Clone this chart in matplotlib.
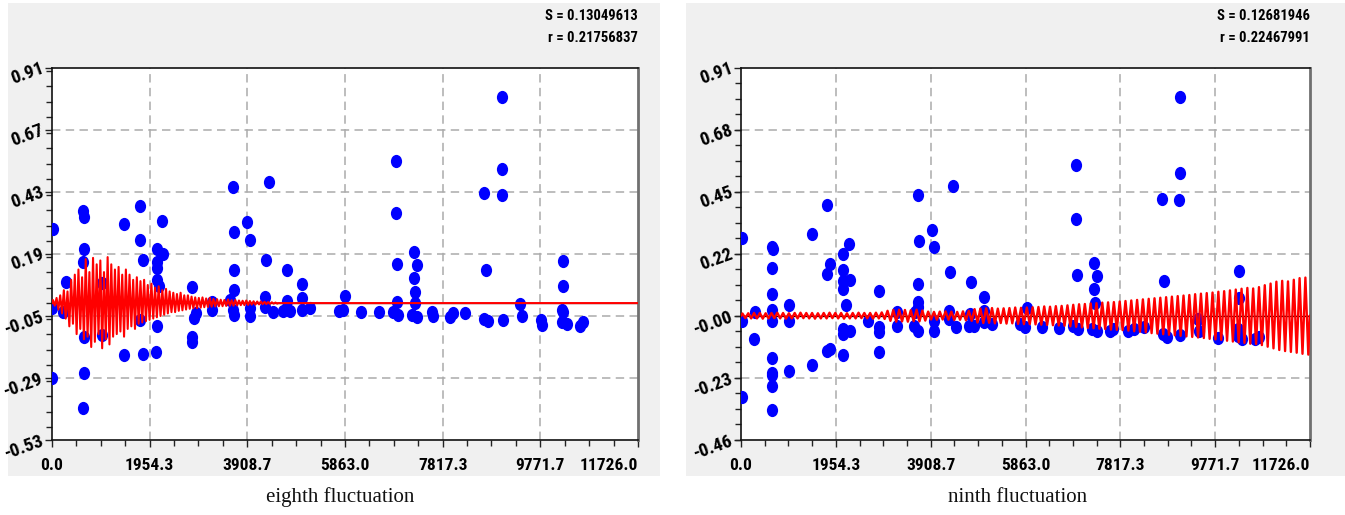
import numpy as np
import matplotlib
matplotlib.use("Agg")
import matplotlib.pyplot as plt
from matplotlib.path import Path
from matplotlib.markers import MarkerStyle
from matplotlib.patches import Rectangle
from matplotlib.ticker import FixedLocator, MultipleLocator
from matplotlib import font_manager as fm
from matplotlib.transforms import Affine2D

# ------------------------------------------------------------------ data
x_max = 11726.0
x_tick_labels = ["0.0", "1954.3", "3908.7", "5863.0", "7817.3", "9771.7", "11726.0"]

# eighth fluctuation
eighth_caption = "eighth fluctuation"
eighth_S = "S = 0.13049613"
eighth_r = "r = 0.21756837"
eighth_ylim = (-0.53, 0.91)
eighth_ytick_labels = ["-0.53", "-0.29", "-0.05", "0.19", "0.43", "0.67", "0.91"]
eighth_x = [13, 0, 220, 0, 280, 620, 640, 640, 620, 640, 640, 620, 1000, 1000,
            1440, 1440, 1760, 1760, 1820, 1820, 1760, 2200, 2100, 2220, 2100,
            2110, 2110, 2100, 2080, 2150, 2800, 2800, 2800, 2850, 2880, 3200,
            3200, 3620, 3640, 3640, 3640, 3560, 3620, 3640, 3900, 3960, 3960,
            3960, 4340, 4280, 4260, 4260, 4420, 4700, 4700, 4620, 4760, 5000,
            5000, 5000, 5160, 5740, 5860, 5820, 6180, 6540, 6880, 6880, 6900,
            6900, 6820, 6920, 7240, 7300, 7240, 7260, 7260, 7200, 7300, 7600,
            7620, 7960, 8020, 8260, 8640, 8680, 8640, 8720, 9000, 9000, 9000,
            9020, 9360, 9400, 9780, 9800, 10230, 10230, 10200, 10230, 10200,
            10300, 10560, 10630]
eighth_y = [0.287, -0.019, -0.035, -0.29, 0.082, 0.356, 0.333, 0.209, 0.159,
            -0.131, -0.27, -0.406, 0.078, -0.124, 0.306, -0.20, 0.376, 0.244,
            0.167, -0.197, -0.066, 0.318, 0.209, 0.19, 0.159, 0.136, 0.09,
            -0.089, -0.19, 0.065, 0.062, -0.131, -0.15, -0.058, -0.04, 0.004,
            -0.027, 0.449, 0.275, 0.128, 0.05, 0.012, -0.027, -0.046, 0.314,
            0.244, -0.019, -0.05, 0.469, 0.167, 0.024, -0.015, -0.035, 0.128,
            0.008, -0.031, -0.031, 0.074, 0.02, -0.027, -0.019, -0.031, 0.027,
            -0.027, -0.035, -0.035, 0.55, 0.349, 0.151, 0.004, -0.035, -0.046,
            0.198, 0.147, 0.097, 0.043, 0.0, -0.046, -0.054, -0.035, -0.05,
            -0.054, -0.038, -0.038, 0.426, 0.128, -0.062, -0.07, 0.797, 0.519,
            0.418, -0.066, -0.004, -0.05, -0.066, -0.085, 0.163, 0.066, -0.027,
            -0.035, -0.073, -0.081, -0.089, -0.073]
eighth_wave_period = 73.0
eighth_wave_peaks = [0.012, 0.02, 0.03, 0.05, 0.045, 0.09,
                     0.11, 0.13, 0.10,
                     0.17, 0.12, 0.175, 0.15, 0.165, 0.12, 0.178,
                     0.15, 0.13, 0.14, 0.11, 0.13,
                     0.11, 0.09, 0.10, 0.085, 0.09, 0.07,
                     0.075, 0.06, 0.065, 0.05, 0.055,
                     0.045, 0.04, 0.035, 0.04, 0.03, 0.03,
                     0.025, 0.022, 0.02, 0.022, 0.018, 0.02, 0.016, 0.015,
                     0.013, 0.012, 0.014, 0.011, 0.012, 0.01, 0.009, 0.01, 0.008,
                     0.007, 0.006, 0.006, 0.005, 0.004, 0.003, 0.002]
eighth_wave_troughs = [-0.01, -0.025, -0.04, -0.06, -0.09, -0.08,
                       -0.12, -0.10, -0.14,
                       -0.13, -0.17, -0.15, -0.12, -0.175, -0.14, -0.16,
                       -0.13, -0.12, -0.11, -0.13, -0.10,
                       -0.09, -0.10, -0.08, -0.075, -0.07, -0.065,
                       -0.06, -0.055, -0.05, -0.045, -0.04,
                       -0.035, -0.035, -0.03, -0.028, -0.025, -0.022,
                       -0.02, -0.02, -0.018, -0.016, -0.015, -0.014, -0.013, -0.012,
                       -0.012, -0.011, -0.01, -0.01, -0.009, -0.008, -0.008, -0.007, -0.006,
                       -0.006, -0.005, -0.004, -0.004, -0.003, -0.002, -0.002]

# ninth fluctuation
ninth_caption = "ninth fluctuation"
ninth_S = "S = 0.12681946"
ninth_r = "r = 0.22467991"
ninth_ylim = (-0.4567, 0.91)
ninth_ytick_labels = ["-0.46", "-0.23", "-0.00", "0.22", "0.45", "0.68", "0.91"]
ninth_x = [14, 14, 295, 268, 14, 630, 650, 640, 640, 640, 640, 640, 640, 640,
           640, 630, 995, 995, 995, 1460, 1460, 1770, 1830, 1770, 1770, 1830,
           2230, 2100, 2100, 2100, 2100, 2240, 2170, 2100, 2100, 2240, 2100,
           2610, 2840, 2850, 2850, 2840, 3220, 3220, 3640, 3670, 3650, 3650,
           3650, 3590, 3570, 3650, 3940, 3980, 3980, 3980, 4370, 4310, 4290,
           4290, 4430, 4730, 4720, 4690, 4810, 5010, 5010, 5010, 5170, 5750,
           5890, 5850, 6200, 6560, 6910, 6910, 6930, 6850, 6950, 7280, 7330,
           7280, 7300, 7230, 7330, 7600, 7660, 7980, 8090, 8310, 8685, 8720,
           8690, 8770, 9055, 9055, 9035, 9050, 9425, 9445, 9825, 10265, 10265,
           10250, 10250, 10320, 10590, 10680]
ninth_y = [0.285, -0.018, 0.012, -0.086, -0.298, 0.252, 0.246, 0.176, 0.08,
           0.022, -0.018, -0.156, -0.209, -0.217, -0.258, -0.346, 0.041, -0.02,
           -0.202, 0.299, -0.18, 0.408, 0.19, 0.154, -0.129, -0.122, 0.262,
           0.225, 0.169, 0.129, 0.099, 0.132, 0.041, -0.049, -0.067, -0.055,
           -0.143, -0.02, 0.092, -0.043, -0.061, -0.135, 0.012, -0.037, 0.445,
           0.273, 0.117, 0.049, 0.031, 0.012, -0.037, -0.055, 0.316, 0.253,
           -0.018, -0.055, 0.475, 0.16, 0.019, -0.012, -0.043, 0.125, 0.007,
           -0.037, -0.037, 0.068, 0.019, -0.024, -0.03, -0.03, 0.027, -0.043,
           -0.04, -0.045, 0.553, 0.355, 0.15, -0.037, -0.049, 0.194, 0.145,
           0.097, 0.047, -0.049, -0.058, -0.055, -0.049, -0.055, -0.049, -0.04,
           0.43, 0.127, -0.067, -0.077, 0.803, 0.526, 0.425, -0.07, -0.012,
           -0.055, -0.082, 0.166, 0.065, -0.049, -0.073, -0.086, -0.086, -0.08]
ninth_wave_period = 119.6
ninth_wave_peaks = [0.008, 0.009, 0.010, 0.010, 0.009, 0.010, 0.011, 0.010, 0.009,
                    0.010, 0.011, 0.010, 0.010, 0.009, 0.010, 0.011, 0.010, 0.010,
                    0.009, 0.010, 0.011, 0.010, 0.010, 0.011, 0.012,
                    0.018, 0.021, 0.022, 0.021, 0.020, 0.022, 0.019,
                    0.015, 0.014, 0.015, 0.016, 0.015, 0.014, 0.016, 0.018,
                    0.024, 0.026, 0.027, 0.028, 0.026, 0.027, 0.028, 0.030, 0.029, 0.030,
                    0.031, 0.032, 0.034, 0.033, 0.035, 0.036, 0.038, 0.040,
                    0.042, 0.043, 0.045, 0.046, 0.048, 0.049, 0.050, 0.052, 0.054,
                    0.056, 0.058, 0.060, 0.062, 0.064, 0.066, 0.068, 0.070,
                    0.072, 0.074, 0.076, 0.079, 0.081, 0.083, 0.085, 0.088, 0.090,
                    0.093, 0.096, 0.099, 0.102, 0.100, 0.105,
                    0.112, 0.118, 0.125, 0.128, 0.126, 0.132, 0.138, 0.140]
ninth_wave_troughs = [-0.009, -0.010, -0.010, -0.011, -0.010, -0.009, -0.010, -0.011,
                      -0.010, -0.010, -0.009, -0.010, -0.011, -0.010, -0.010, -0.009,
                      -0.010, -0.011, -0.010, -0.010, -0.009, -0.010, -0.011, -0.010,
                      -0.012,
                      -0.019, -0.022, -0.021, -0.022, -0.020, -0.021, -0.018,
                      -0.014, -0.015, -0.014, -0.015, -0.016, -0.015, -0.017, -0.019,
                      -0.025, -0.027, -0.026, -0.028, -0.027, -0.029, -0.028, -0.030,
                      -0.031, -0.031,
                      -0.032, -0.033, -0.034, -0.035, -0.036, -0.037, -0.039, -0.041,
                      -0.043, -0.045, -0.046, -0.048, -0.049, -0.051, -0.052, -0.053,
                      -0.055,
                      -0.057, -0.059, -0.061, -0.064, -0.066, -0.068, -0.070, -0.072,
                      -0.074, -0.076, -0.078, -0.080, -0.082, -0.085, -0.087, -0.089,
                      -0.092,
                      -0.095, -0.098, -0.100, -0.103, -0.104, -0.108,
                      -0.114, -0.120, -0.126, -0.130, -0.133, -0.136, -0.140, -0.143]

# ------------------------------------------------------------------ style
W, H, DPI = 1345, 515, 100
PANEL_BG = "#f0f0f0"
DOT_BLUE = "#0000ff"
WAVE_RED = "#ff0000"


def pick_label_font():
    """Bold narrow sans for tick labels and statistics; falls back to Liberation Sans."""
    entries = fm.fontManager.ttflist
    bold = [f for f in entries if f.weight in (600, 700, "bold", "semibold")]
    for fam in ("Liberation Sans Narrow", "Roboto Condensed", "Arial Narrow",
                "Open Sans Condensed", "DejaVu Sans Condensed", "Noto Sans Condensed"):
        for f in bold:
            if f.name == fam:
                return fm.FontProperties(fname=f.fname), True
    for f in bold:
        if f.stretch in ("condensed", "semi-condensed", "extra-condensed") \
                and "serif" not in f.name.lower().replace("sans", ""):
            return fm.FontProperties(fname=f.fname), True
    return fm.FontProperties(family="Liberation Sans", weight="bold"), False


LABEL_FP, NARROW = pick_label_font()
XTICK_SIZE = 12.5 if NARROW else 10.5
YTICK_SIZE = 13.5 if NARROW else 11.0
STAT_SIZE = 10.5 if NARROW else 8.6
CAPTION_FONT = dict(family=["Liberation Serif", "DejaVu Serif"])

# slightly tall elliptical dot
DOT_MARKER = MarkerStyle(Path.unit_circle().transformed(Affine2D().scale(1.0, 1.18)))


def sized(fp, size):
    p = fp.copy()
    p.set_size(size)
    return p


def px_box(x0, y0, x1, y1):
    """Figure-fraction [left, bottom, width, height] from pixel corners."""
    return [x0 / W, 1 - y1 / H, (x1 - x0) / W, (y1 - y0) / H]


def wave_line(period, peaks, troughs):
    half = period / 2.0
    vals = [0.0]
    for p, t in zip(peaks, troughs):
        vals.extend([p, t])
    vals.append(0.0)
    xs = [0.0] + [(i + 0.5) * half for i in range(len(vals) - 2)]
    xs.append(xs[-1] + 0.5 * half)
    if xs[-1] < x_max:
        xs.append(x_max)
        vals.append(0.0)
    return np.array(xs), np.array(vals)


def draw_panel(fig, bg_px, ax_px, ylim, ylabels, xs, ys, wave, wave_lw,
               s_text, r_text, caption, caption_x):
    bx0, by0, bx1, by1 = bg_px
    fig.patches.append(Rectangle((bx0 / W, 1 - by1 / H), (bx1 - bx0) / W,
                                 (by1 - by0) / H, transform=fig.transFigure,
                                 facecolor=PANEL_BG, edgecolor="none",
                                 zorder=-10))
    ax = fig.add_axes(px_box(*ax_px))
    ax.set_zorder(1)
    ax.set_facecolor("white")
    ax.set_xlim(0, x_max)
    ax.set_ylim(*ylim)

    xt = np.linspace(0, x_max, len(x_tick_labels))
    yt = np.linspace(ylim[0], ylim[1], len(ylabels))
    ax.xaxis.set_major_locator(FixedLocator(xt))
    ax.yaxis.set_major_locator(FixedLocator(yt))
    ax.xaxis.set_minor_locator(MultipleLocator(x_max / 24))
    ax.yaxis.set_minor_locator(MultipleLocator((ylim[1] - ylim[0]) / 24))
    ax.set_xticklabels(x_tick_labels, fontproperties=sized(LABEL_FP, XTICK_SIZE))
    ax.set_yticklabels(ylabels, fontproperties=sized(LABEL_FP, YTICK_SIZE))
    ax.tick_params(which="major", direction="out", length=5, width=1.0,
                   color="#222222")
    ax.tick_params(which="minor", direction="out", length=4, width=1.0,
                   color="#222222")
    ax.tick_params(axis="x", which="major", pad=8)
    ax.tick_params(axis="y", which="major", pad=1.5)
    for lab in ax.get_yticklabels():
        lab.set_rotation(20)
        lab.set_rotation_mode("anchor")
        lab.set_ha("right")
        lab.set_va("center")
    ax.get_xticklabels()[-1].set_ha("right")

    for g in xt[1:-1]:
        ax.axvline(g, color="#ababab", lw=1.1, ls=(0, (5.5, 3.5)), zorder=1)
    for g in yt[1:-1]:
        ax.axhline(g, color="#ababab", lw=1.1, ls=(0, (5.5, 3.5)), zorder=1)

    for side in ("left", "bottom", "top"):
        ax.spines[side].set_color("#111111")
        ax.spines[side].set_linewidth(1.2)
    ax.spines["right"].set_color("#707070")
    ax.spines["right"].set_linewidth(2.0)

    ax.axhline(0.0, color="#000000", lw=0.9, zorder=2)
    ax.scatter(xs, ys, s=13.2 ** 2 * 0.52, marker=DOT_MARKER, color=DOT_BLUE,
               linewidths=0, zorder=3)
    wx, wy = wave
    ax.plot(wx, wy, color=WAVE_RED, lw=wave_lw, solid_joinstyle="round",
            zorder=4, clip_on=True)

    stat_fp = sized(LABEL_FP, STAT_SIZE)
    right = ax_px[2]
    fig.text(right / W, 1 - 16 / H, s_text, ha="right", va="center",
             fontproperties=stat_fp)
    fig.text(right / W, 1 - 38 / H, r_text, ha="right", va="center",
             fontproperties=stat_fp)
    fig.text(caption_x / W, 1 - 497 / H, caption, ha="center", va="center",
             fontsize=15, color="#111111", **CAPTION_FONT)
    return ax


fig = plt.figure(figsize=(W / DPI, H / DPI), dpi=DPI)
fig.patch.set_facecolor("white")

draw_panel(fig, (8, 3, 660, 476), (52, 68, 638, 440), eighth_ylim,
           eighth_ytick_labels, eighth_x, eighth_y,
           wave_line(eighth_wave_period, eighth_wave_peaks, eighth_wave_troughs),
           1.5, eighth_S, eighth_r, eighth_caption, 340)
draw_panel(fig, (686, 3, 1345, 476), (741, 68, 1310, 440), ninth_ylim,
           ninth_ytick_labels, ninth_x, ninth_y,
           wave_line(ninth_wave_period, ninth_wave_peaks, ninth_wave_troughs),
           1.7, ninth_S, ninth_r, ninth_caption, 1018)

fig.savefig("out.png", dpi=DPI, facecolor="white")
